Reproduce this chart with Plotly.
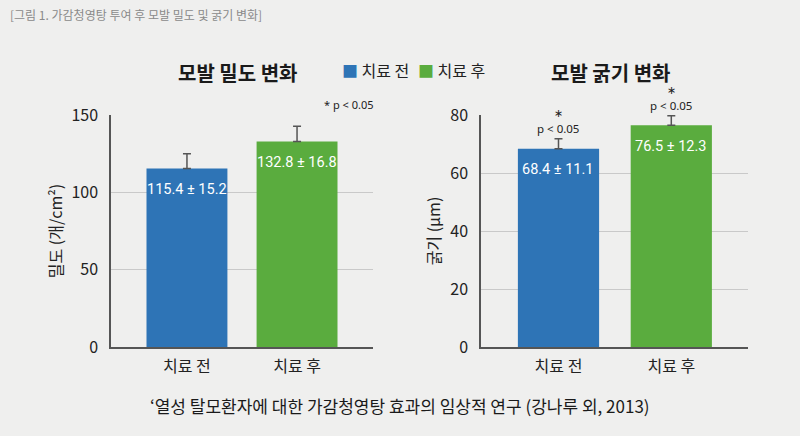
import plotly.graph_objects as go

categories = ["치료 전", "치료 후"]
density_mean = [115.4, 132.8]
density_sd = [15.2, 16.8]
density_err_drawn = [9.5, 10.0]
thickness_mean = [68.4, 76.5]
thickness_sd = [11.1, 12.3]
thickness_err_drawn = [3.4, 3.2]
density_ticks = [0, 50, 100, 150]
thickness_ticks = [0, 20, 40, 60, 80]
legend_labels = ["치료 전", "치료 후"]
colors = ["#2e74b6", "#5aac3e"]

W, H = 800, 436
FONT = "Noto Sans CJK KR"
NARROW = "Roboto"
BG = "#efefee"

def px_x(v):
    return v / W

def px_y(v):
    return 1 - v / H

fig = go.Figure()

err_style = dict(type="data", symmetric=False, color="#555555", thickness=1.5, width=4)

fig.add_trace(go.Bar(
    x=categories, y=density_mean, marker=dict(color=colors, line=dict(width=0)),
    width=0.735, error_y=dict(array=density_err_drawn, arrayminus=[0, 0], **err_style),
    xaxis="x", yaxis="y", showlegend=False, hoverinfo="skip"))
fig.add_trace(go.Bar(
    x=categories, y=thickness_mean, marker=dict(color=colors, line=dict(width=0)),
    width=0.72, error_y=dict(array=thickness_err_drawn, arrayminus=[0, 0], **err_style),
    xaxis="x2", yaxis="y2", showlegend=False, hoverinfo="skip"))

ydom = [px_y(347), px_y(115)]
axis_common = dict(showline=True, linecolor="#555555", linewidth=1.5, automargin=False,
                   tickfont=dict(family=FONT, size=16, color="#222222"))

fig.update_layout(
    template="none",
    width=W, height=H, paper_bgcolor=BG, plot_bgcolor=BG,
    margin=dict(l=0, r=0, t=0, b=0, pad=0), bargap=0.3,
    font=dict(family=FONT),
    xaxis=dict(domain=[px_x(111), px_x(373)], type="category", range=[-0.69, 1.69],
               showgrid=False, ticks="", ticklabelstandoff=4, **axis_common),
    yaxis=dict(domain=ydom, range=[0, 150], tickvals=density_ticks, showgrid=True,
               gridcolor="#c9c9c9", gridwidth=1, zeroline=False, ticks="",
               ticklabelstandoff=8,
               title=dict(text="밀도 (개/cm²)", font=dict(family=FONT, size=16, color="#222222"), standoff=5),
               **axis_common),
    xaxis2=dict(domain=[px_x(481), px_x(748)], type="category", range=[-0.687, 1.68],
                showgrid=False, ticks="", ticklabelstandoff=4, anchor="y2", **axis_common),
    yaxis2=dict(domain=ydom, range=[0, 80], tickvals=thickness_ticks, showgrid=True,
                gridcolor="#c9c9c9", gridwidth=1, zeroline=False, ticks="", anchor="x2",
                ticklabelstandoff=8,
                title=dict(text="굵기 (μm)", font=dict(family=FONT, size=16, color="#222222"), standoff=6),
                **axis_common),
)

ann = []
# value labels inside bars
for xa, ya, means, sds in [("x", "y", density_mean, density_sd), ("x2", "y2", thickness_mean, thickness_sd)]:
    for c, m, s in zip(categories, means, sds):
        ann.append(dict(x=c, y=m, xref=xa, yref=ya, text=f"{m} ± {s}", showarrow=False,
                        xanchor="center", yanchor="middle",
                        yshift=-21, font=dict(family=NARROW, size=14.5, color="white")))

# significance marks on thickness bars
for c, m, e in zip(categories, thickness_mean, thickness_err_drawn):
    ann.append(dict(x=c, y=m + e, xref="x2", yref="y2", text="p < 0.05", showarrow=False,
                    xanchor="center", yanchor="middle", yshift=10,
                    font=dict(family="Noto Sans", size=11.5, color="#222222")))
    ann.append(dict(x=c, y=m + e, xref="x2", yref="y2", text="∗", showarrow=False,
                    xanchor="center", yanchor="middle", yshift=25.5,
                    font=dict(family="DejaVu Sans", size=11, color="#222222")))

ann.append(dict(x=px_x(376), y=px_y(104), xref="paper", yref="paper", text="* p < 0.05",
                showarrow=False, xanchor="right", yanchor="middle",
                font=dict(family="Noto Sans", size=11, color="#222222")))

# titles
for tx, ttl in [(237, "모발 밀도 변화"), (610, "모발 굵기 변화")]:
    ann.append(dict(x=px_x(tx), y=px_y(72), xref="paper", yref="paper", text=f"<b>{ttl}</b>",
                    showarrow=False, xanchor="center", yanchor="middle",
                    font=dict(family=FONT, size=20, color="#1a1a1a")))

# legend
for lx, lab, col in zip([340, 416], legend_labels, colors):
    ann.append(dict(x=px_x(lx), y=px_y(70), xref="paper", yref="paper", xanchor="left", yanchor="middle",
                    text=f"<span style='color:{col}'>■</span> {lab}", showarrow=False,
                    font=dict(family=FONT, size=16, color="#222222")))

# caption and citation
ann.append(dict(x=px_x(8), y=px_y(15), xref="paper", yref="paper", xanchor="left", yanchor="middle",
                text="[그림 1. 가감청영탕 투여 후 모발 밀도 및 굵기 변화]", showarrow=False,
                font=dict(family=FONT, size=12, color="#8a8a8a")))
ann.append(dict(x=px_x(400), y=px_y(405), xref="paper", yref="paper", xanchor="center", yanchor="middle",
                text="‘열성 탈모환자에 대한 가감청영탕 효과의 임상적 연구 (강나루 외, 2013)", showarrow=False,
                font=dict(family=FONT, size=17, color="#1a1a1a")))

fig.update_layout(annotations=ann)
fig.write_html("out.html", config={"displayModeBar": False},
               post_script="document.body.style.margin='0';")
